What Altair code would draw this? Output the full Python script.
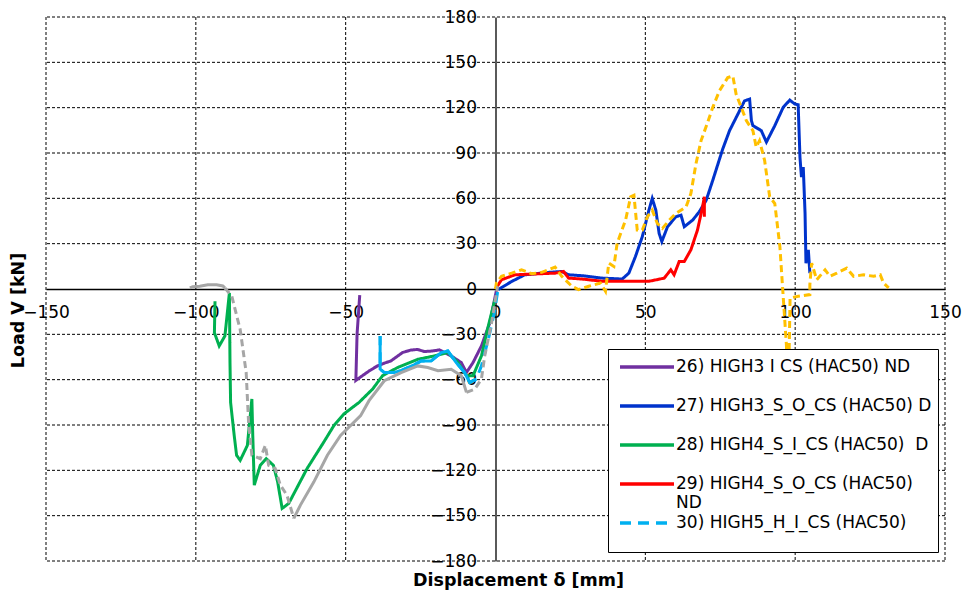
import altair as alt
import pandas as pd

# ---------------- data ----------------
X_TICKS = [-150, -100, -50, 0, 50, 100, 150]
Y_TICKS = [-180, -150, -120, -90, -60, -30, 0, 30, 60, 90, 120, 150, 180]
GRID_X = [-150, -100, -50, 50, 100, 150]
GRID_Y = [-180, -150, -120, -90, -60, -30, 30, 60, 90, 120, 150, 180]

NAMES = [
    "26) HIGH3 I CS (HAC50) ND",
    "27) HIGH3_S_O_CS (HAC50) D",
    "28) HIGH4_S_I_CS (HAC50)\u00a0 D",
    "29) HIGH4_S_O_CS (HAC50)|ND",
    "30) HIGH5_H_I_CS (HAC50)",
]
COLORS = ["#7030A0", "#0033CC", "#00B050", "#FF0000", "#00B0F0"]
DASHES = [[1, 0], [1, 0], [1, 0], [1, 0], [11, 7]]

s26_x = [0.3, -1.9, -4.7, -7.5, -9.7, -11.4, -14.8, -18.7, -21.0, -23.7, -26.0, -28.2, -31.0,
         -34.9, -37.0, -39.4, -42.0, -44.5, -46.6, -46.2, -45.3]
s26_y = [-1.0, -22.4, -37.7, -48.7, -55.3, -48.7, -44.3, -40.3, -41.0, -41.4, -40.0, -40.4, -42.0,
         -47.6, -49.0, -50.9, -54.0, -57.5, -60.5, -30.0, -4.0]

s27_x = [0.9, 5.4, 9.8, 17.7, 22.1, 24.4, 28.9, 35.6, 42.3, 44.5, 46.7, 49.0, 51.2, 52.3, 53.5,
         54.6, 55.5, 57.4, 60.2, 61.9, 63.0, 65.8, 68.0, 70.3, 72.5, 75.8, 78.1, 80.9, 83.1, 84.8,
         85.4, 85.9, 88.7, 90.4, 93.2, 96.0, 98.2, 99.9, 101.0, 101.6, 102.1, 102.7, 103.3, 103.6,
         104.4, 104.9]
s27_y = [-0.4, 5.0, 9.4, 11.0, 11.6, 9.4, 8.8, 7.2, 6.6, 10.5, 21.5, 34.7, 52.2, 59.9, 52.2,
         36.8, 31.4, 41.2, 47.8, 48.9, 41.2, 45.6, 51.1, 58.7, 71.9, 92.5, 104.8, 115.8, 124.5, 125.7,
         111.4, 108.1, 104.8, 97.2, 108.1, 120.2, 125.0, 122.4, 121.9, 87.3, 74.1, 80.7, 50.0, 17.1,
         25.9, 10.5]

s28_x = [-0.2, -2.4, -4.7, -7.5, -9.7, -12.5, -15.9, -20.4, -25.9, -32.7, -37.7, -41.0, -45.5,
         -50.6, -53.9, -57.3, -62.9, -69.0, -71.2, -72.7, -74.1, -76.5, -78.5, -80.5, -81.0, -81.3,
         -82.8, -85.2, -86.4, -87.2, -88.4, -88.6, -88.8, -90.3, -92.2, -93.8, -93.6]
s28_y = [-7.0, -24.5, -44.3, -57.4, -57.4, -48.7, -42.1, -44.3, -46.5, -52.0, -57.4, -66.2, -75.0,
         -82.7, -90.3, -101.3, -118.9, -141.9, -145.2, -127.6, -116.7, -112.3, -116.7, -129.8, -96.9,
         -72.8, -103.5, -113.4, -110.0, -96.9, -75.0, -48.7, -2.6, -31.1, -37.7, -28.9, -8.1]

s29_x = [0.0, 2.0, 6.5, 19.9, 22.7, 24.4, 28.9, 35.6, 45.6, 51.2, 56.3, 58.5, 59.6, 61.3, 63.0,
         65.2, 67.4, 69.1, 69.7, 69.7]
s29_y = [0.0, 6.1, 9.4, 10.5, 11.6, 7.2, 6.6, 5.1, 5.1, 5.1, 7.2, 12.7, 9.4, 18.2, 18.2,
         25.9, 39.0, 54.4, 61.0, 47.8]

s30_x = [0.7, -0.4, -2.4, -4.7, -6.4, -8.6, -10.3, -13.1, -15.9, -18.1, -21.5, -24.8, -27.0,
         -29.3, -31.5, -33.8, -37.1, -38.5, -38.5]
s30_y = [-2.0, -15.8, -33.3, -50.9, -59.6, -61.8, -55.3, -48.7, -41.0, -42.1, -47.6, -47.6, -50.0,
         -52.0, -54.0, -55.3, -55.3, -53.0, -31.1]
S30_SOLID_FROM = 4   # the dense part of series 30 reads as a continuous line

# series outside the visible legend
yel_x = [0.0, 0.3, 2.0, 5.4, 8.7, 12.1, 15.4, 19.9, 22.1, 25.5, 27.7, 31.1, 35.0, 36.7, 37.8,
         39.5, 40.6, 43.4, 45.1, 46.2, 47.3, 49.0, 50.7, 52.3, 54.0, 55.7, 58.0, 60.2, 63.6, 65.2,
         66.9, 68.6, 70.8, 72.5, 74.7, 77.5, 79.2, 80.3, 82.0, 83.7, 85.9, 87.0, 88.1, 89.8, 91.5,
         93.2, 94.9, 96.0, 97.1, 97.5, 98.0, 98.3, 101.0, 104.9, 104.9, 105.5, 107.2, 110.0, 111.6,
         113.9, 117.2, 119.5, 122.8, 126.2, 128.4, 129.5, 131.2]
yel_y = [0.0, 3.9, 8.4, 10.5, 12.7, 10.1, 11.0, 14.5, 8.4, 1.8, -0.4, 1.8, 3.9, -1.5, 17.1,
         14.9, 30.3, 45.6, 61.0, 62.0, 39.0, 39.0, 47.8, 52.2, 43.4, 40.1, 45.6, 50.0, 54.4, 63.2,
         82.9, 98.2, 110.3, 120.2, 131.1, 139.9, 141.0, 128.9, 120.2, 111.4, 104.8, 93.9, 98.2, 85.1, 61.0,
         56.6, 28.1, -4.8, -37.7, -85.0, -40.0, -6.0, -4.8, -3.7, 2.8, 17.1, 6.1, 12.7, 8.4,
         10.5, 13.8, 8.4, 9.4, 8.4, 9.4, 3.9, 0.7]

gray_x = [-102.0, -101.0, -98.7, -96.0, -93.1, -91.0, -90.3, -88.0, -85.2, -83.2, -82.4, -81.3,
          -78.5, -76.8, -75.7, -73.5, -71.8, -69.6, -67.3, -65.1, -60.6, -56.1, -51.7, -45.0,
          -42.2, -37.1, -31.5, -25.9, -22.6, -19.2, -14.8, -11.4, -9.7, -6.9, -4.7, -3.6, -1.3, 0.7]
gray_y = [0.7, 1.5, 1.8, 2.8, 2.8, 2.0, 0.7, -4.8, -26.8, -55.3, -88.2, -110.0,
          -112.3, -103.5, -116.7, -118.9, -129.8, -136.4, -151.8, -143.0, -127.6, -110.0, -96.9, -83.8,
          -73.9, -60.7, -55.3, -50.9, -52.0, -54.1, -53.1, -57.4, -68.4, -66.2, -59.6, -44.3, -22.4, 1.8]
# 1 = the segment leaving this point is dashed
gray_dash = [0, 0, 0, 0, 0, 0, 1, 1, 1, 1, 1, 1,
             1, 1, 1, 1, 1, 1, 0, 0, 0, 0, 0, 0,
             0, 0, 0, 0, 0, 0, 0, 0, 1, 1, 1, 1, 1, 1]

# ---------------- tables ----------------
rows = []
for name, xs, ys in zip(NAMES, [s26_x, s27_x, s28_x, s29_x, s30_x],
                        [s26_y, s27_y, s28_y, s29_y, s30_y]):
    for i, (xv, yv) in enumerate(zip(xs, ys)):
        rows.append({"series": name, "i": i, "x": xv, "y": yv})
main_df = pd.DataFrame(rows)

cyan_df = pd.DataFrame({"x": s30_x[S30_SOLID_FROM:], "y": s30_y[S30_SOLID_FROM:],
                        "i": range(len(s30_x) - S30_SOLID_FROM)})

yel_df = pd.DataFrame({"x": yel_x, "y": yel_y, "i": range(len(yel_x))})

gray_rows = []
seg = 0
for k in range(len(gray_x) - 1):
    if k > 0 and gray_dash[k] != gray_dash[k - 1]:
        seg += 1
    for j in (k, k + 1):
        gray_rows.append({"seg": seg, "dash": gray_dash[k], "i": j, "x": gray_x[j], "y": gray_y[j]})
gray_df = pd.DataFrame(gray_rows)
gray_solid = gray_df[gray_df.dash == 0]
gray_dashed = gray_df[gray_df.dash == 1]

FONT = "DejaVu Sans"
PLOT_W, PLOT_H = 899, 544
xscale = alt.Scale(domain=[-150, 150], nice=False, zero=False)
yscale = alt.Scale(domain=[-180, 180], nice=False, zero=False)

x_axis = alt.Axis(
    values=X_TICKS, offset=-PLOT_H / 2, ticks=False, grid=False, labelPadding=15,
    labelFont=FONT, labelFontSize=17, labelColor="black", labelFlush=False,
    labelOverlap=False, labelBound=False, domainColor="black", domainWidth=1.3,
    title="Displacement δ [mm]", titleFont=FONT, titleFontSize=17.5, titleFontWeight="bold",
    titleColor="black", titleX=472, titleY=291, titleBaseline="middle", titleAlign="center",
)
y_axis = alt.Axis(
    values=Y_TICKS, offset=-PLOT_W / 2, ticks=False, grid=False, labelPadding=19,
    labelFont=FONT, labelFontSize=17, labelColor="black", labelFlush=False,
    labelOverlap=False, labelBound=False, domainColor="black", domainWidth=1.3,
    title="Load V [kN]", titleFont=FONT, titleFontSize=17.5, titleFontWeight="bold",
    titleColor="black", titleX=-477.5, titleY=293, titleAngle=270,
    titleBaseline="middle", titleAlign="center",
)


def X(field="x"):
    return alt.X(f"{field}:Q", scale=xscale, axis=x_axis)


def Y(field="y"):
    return alt.Y(f"{field}:Q", scale=yscale, axis=y_axis)


grid_x = alt.Chart(pd.DataFrame({"x": GRID_X})).mark_rule(
    color="black", strokeWidth=1, strokeDash=[3, 2]
).encode(x=X())

grid_y = alt.Chart(pd.DataFrame({"y": GRID_Y})).mark_rule(
    color="black", strokeWidth=1, strokeDash=[3, 2]
).encode(y=Y())

legend = alt.Legend(
    orient="none", legendX=562, legendY=332, title="\u00a0", titleOrient="bottom",
    titleFontSize=12, titlePadding=4,
    symbolType="M-0.6,0H4.8", symbolSize=400, symbolStrokeWidth=3.5,
    labelFont=FONT, labelFontSize=17, labelColor="black", labelLimit=500, labelOffset=38,
    labelExpr="split(datum.label, '|')",
    gridAlign="all", rowPadding=0, padding=6, strokeColor="black", fillColor="white",
)

main = alt.Chart(main_df).mark_line(strokeWidth=3).encode(
    x=X(), y=Y(),
    color=alt.Color("series:N", scale=alt.Scale(domain=NAMES, range=COLORS), legend=legend),
    strokeDash=alt.StrokeDash("series:N", scale=alt.Scale(domain=NAMES, range=DASHES), legend=legend),
    order="i:Q",
)

cyan = alt.Chart(cyan_df).mark_line(strokeWidth=3, color=COLORS[4]).encode(
    x=X(), y=Y(), order="i:Q",
)

yellow = alt.Chart(yel_df).mark_line(strokeWidth=3, color="#FFC000", strokeDash=[7, 4]).encode(
    x=X(), y=Y(), order="i:Q",
)

gray1 = alt.Chart(gray_solid).mark_line(strokeWidth=3, color="#A6A6A6").encode(
    x=X(), y=Y(), detail="seg:N", order="i:Q",
)
gray2 = alt.Chart(gray_dashed).mark_line(strokeWidth=3, color="#A6A6A6", strokeDash=[7, 4]).encode(
    x=X(), y=Y(), detail="seg:N", order="i:Q",
)

chart = alt.layer(grid_x, grid_y, main, cyan, yellow, gray1, gray2).properties(
    width=PLOT_W, height=PLOT_H,
    autosize=alt.AutoSizeParams(type="none"),
    padding={"left": 38, "top": 9, "right": 20, "bottom": 30},
    background="white",
).configure_view(stroke=None)

chart.save("out.html", embed_options={"renderer": "svg", "actions": False})
